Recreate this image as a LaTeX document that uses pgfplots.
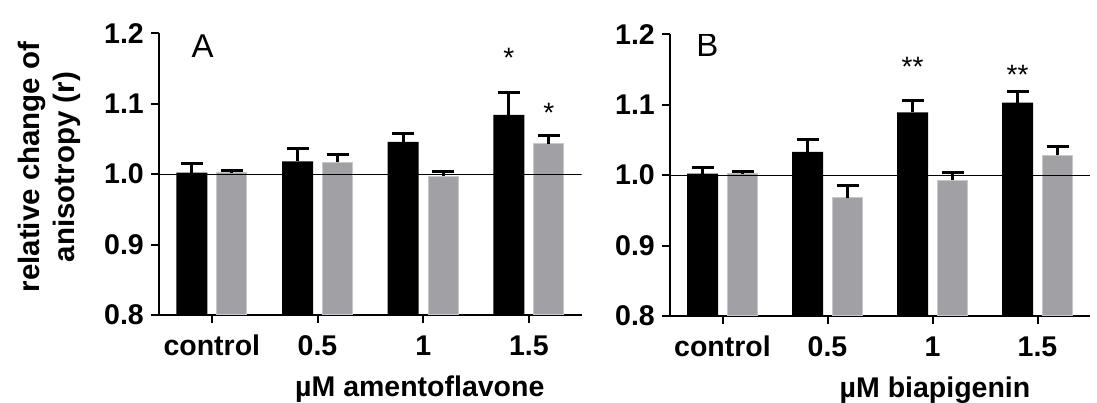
\documentclass[border=0pt]{standalone}
\usepackage{fontspec}
\setmainfont{Liberation Sans}
\usepackage{pgfplots}
\pgfplotsset{compat=1.18}

\definecolor{bargray}{RGB}{160,160,165}
\definecolor{edgegray}{RGB}{200,200,204}

\newcommand{\lblfont}{\fontsize{28.5}{35}\selectfont\bfseries}

\pgfplotsset{
  panel/.style={
    scale only axis,
    height=281.7pt,
    ymin=0.8, ymax=1.2,
    xmin=-0.5, xmax=3.5,
    axis x line*=bottom,
    axis y line*=left,
    axis line style={line width=2pt, black},
    ytick={0.8,0.9,1.0,1.1,1.2},
    yticklabels={0.8,0.9,1.0,1.1,1.2},
    xtick={0,1,2,3},
    xticklabels={control,0.5,1,1.5},
    tick align=outside,
    major tick length=8pt,
    tick style={line width=2pt, black},
    /pgf/number format/assume math mode=true,
    ticklabel style={font=\lblfont, inner sep=0pt},
    xticklabel style={anchor=base, yshift=-32.5pt},
    yticklabel style={anchor=east, xshift=-7pt},
    xlabel style={font=\lblfont, inner sep=0pt, anchor=base, yshift=-81.3pt},
    ybar,
    clip=true,
  },
  blackbar/.style={
    fill=black, draw=none, bar width=31pt, bar shift=-20pt,
    error bars/.cd, y dir=plus, y explicit,
    error bar style={line width=3pt, black},
    error mark options={rotate=90, black, line width=3pt, mark size=11pt},
  },
  graybar/.style={
    fill=bargray, draw=edgegray, line width=1pt, bar width=30pt, bar shift=20pt,
    error bars/.cd, y dir=plus, y explicit,
    error bar style={line width=3pt, black},
    error mark options={rotate=90, black, line width=3pt, mark size=11pt},
  },
}

% x  mean  sem
\pgfplotstableread{
x y err
0 1.002 0.0125
1 1.018 0.019
2 1.046 0.012
3 1.084 0.032
}\amentoBlack
\pgfplotstableread{
x y err
0 1.002 0.003
1 1.017 0.011
2 0.997 0.007
3 1.043 0.012
}\amentoGray
\pgfplotstableread{
x y err
0 1.002 0.0095
1 1.033 0.017
2 1.089 0.0175
3 1.103 0.0155
}\biapBlack
\pgfplotstableread{
x y err
0 1.002 0.0035
1 0.968 0.017
2 0.993 0.0105
3 1.028 0.013
}\biapGray

\begin{document}
\begin{tikzpicture}
\useasboundingbox (0,0) rectangle (1097pt,403pt);

% y-axis title shared by both panels
\node[rotate=90, align=center, font=\fontsize{29.5}{35}\selectfont\bfseries]
  at (49pt,236pt) {relative change of\\anisotropy (r)};

% ---------- panel A ----------
\begin{axis}[panel, width=422.7pt, at={(159pt,88pt)}, anchor=south west,
    xlabel={µM amentoflavone},
    xlabel style={at={(axis description cs:0.617,0)}}]
  \addplot[blackbar] table[x=x, y=y, y error=err] {\amentoBlack};
  \addplot[graybar]  table[x=x, y=y, y error=err] {\amentoGray};
  \draw[line width=1pt] (axis cs:-0.5,1) -- (axis cs:3.5,1);
  \node[font=\fontsize{28}{28}\selectfont, anchor=base, yshift=-16pt]
    at (axis cs:2.81,1.1735) {*};
  \node[font=\fontsize{28}{28}\selectfont, anchor=base, yshift=-16pt]
    at (axis cs:3.19,1.0955) {*};
  \node[font=\fontsize{33}{33}\selectfont] at (axis description cs:0.103,0.955) {A};
\end{axis}

% ---------- panel B ----------
\begin{axis}[panel, width=420pt, at={(670pt,87pt)}, anchor=south west,
    xlabel={µM biapigenin},
    xlabel style={at={(axis description cs:0.631,0)}}]
  \addplot[blackbar] table[x=x, y=y, y error=err] {\biapBlack};
  \addplot[graybar]  table[x=x, y=y, y error=err] {\biapGray};
  \draw[line width=1pt] (axis cs:-0.5,1) -- (axis cs:3.5,1);
  \node[font=\fontsize{28}{28}\selectfont, anchor=base, yshift=-16pt]
    at (axis cs:1.81,1.163) {**};
  \node[font=\fontsize{28}{28}\selectfont, anchor=base, yshift=-16pt]
    at (axis cs:2.81,1.1516) {**};
  \node[font=\fontsize{33}{33}\selectfont] at (axis description cs:0.089,0.962) {B};
\end{axis}
\end{tikzpicture}
\end{document}
